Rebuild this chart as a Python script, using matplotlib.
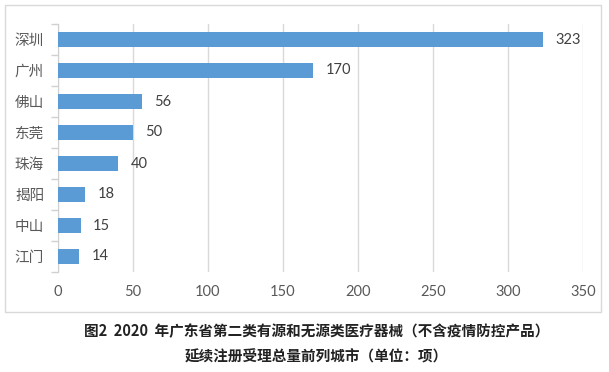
import matplotlib.pyplot as plt
from matplotlib.patches import Rectangle
import numpy as np

plt.rcParams['font.family'] = ['Noto Sans CJK SC', 'DejaVu Sans']

cities = ['深圳', '广州', '佛山', '东莞', '珠海', '揭阳', '中山', '江门']
counts = [323, 170, 56, 50, 40, 18, 15, 14]
xticks = [0, 50, 100, 150, 200, 250, 300, 350]
caption1 = '图2  2020  年广东省第二类有源和无源类医疗器械（不含疫情防控产品）'
caption2 = '延续注册受理总量前列城市（单位：项）'

W, H = 609, 372
fig = plt.figure(figsize=(W / 100, H / 100), dpi=100)
ax = fig.add_axes([58 / W, 1 - 272 / H, (583 - 58) / W, (272 - 24) / H])

y = np.arange(len(cities))
ax.barh(y, counts, height=0.5, color='#5B9BD5', zorder=3)
ax.set_ylim(len(cities) - 0.5, -0.5)
ax.set_xlim(0, 350)
ax.set_xticks(xticks)
ax.set_yticks(y)
ax.set_yticklabels(cities)
ax.set_yticks(np.arange(-0.5, len(cities)), minor=True)
ax.tick_params(axis='y', which='major', length=0, pad=10, labelsize=10.5, labelcolor='#595959')
ax.tick_params(axis='y', which='minor', length=5, color='#D0D0D0', width=1)
ax.tick_params(axis='x', length=0, pad=9, labelsize=10.5, labelcolor='#595959')
for lab in ax.get_xticklabels():
    lab.set_family(['Lato', 'DejaVu Sans'])

ax.grid(axis='x', color='#D9D9D9', linewidth=1, zorder=0)
for s in ['top', 'right', 'bottom']:
    ax.spines[s].set_visible(False)
ax.spines['left'].set_color('#D0D0D0')

for yi, v in zip(y, counts):
    ax.annotate(str(v), (v, yi), xytext=(9, 0), textcoords='offset points',
                va='center', ha='left', fontsize=10.5, color='#404040',
                family=['Lato', 'DejaVu Sans'])

# chart frame
fig.patches.append(Rectangle((5 / W, 1 - 312 / H), (601 - 5) / W, (312 - 5) / H,
                             transform=fig.transFigure, fill=False,
                             edgecolor='#D9D9D9', linewidth=1))

fig.text(317 / W, 1 - 331 / H, caption1, ha='center', va='center',
         fontsize=10.5, fontweight='bold', color='#222222')
fig.text(316 / W, 1 - 357 / H, caption2, ha='center', va='center',
         fontsize=10.5, fontweight='bold', color='#222222')

fig.savefig('out.png', dpi=100)
